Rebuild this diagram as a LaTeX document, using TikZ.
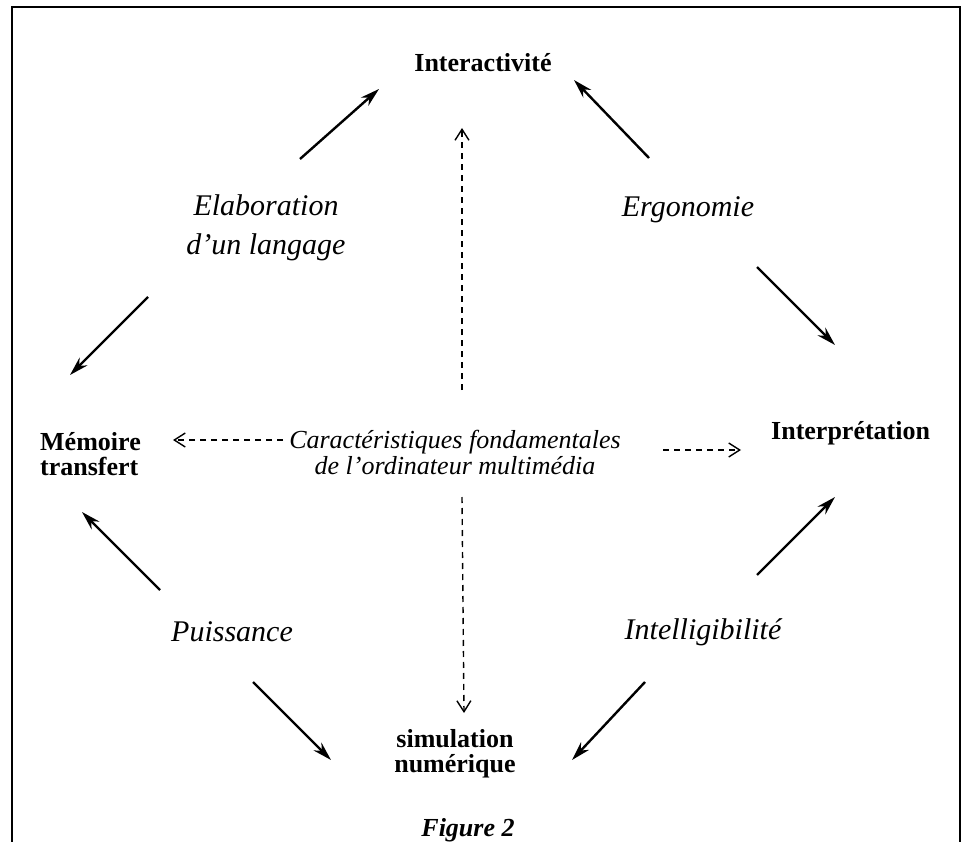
\documentclass[tikz,border=0pt]{standalone}
\usepackage{fontspec}
\setmainfont{Liberation Serif}
\usetikzlibrary{arrows.meta, positioning}
\tikzset{
  pole/.style={font=\fontsize{26}{25}\selectfont\bfseries, align=left},
  quality/.style={font=\fontsize{30}{39}\selectfont\itshape, align=center},
  arrowline/.style={-{Stealth[length=19pt, width=11pt, inset=6pt]}, line width=2.4pt},
  dashline/.style={-{Straight Barb[length=11pt, width=14pt]}, line width=1.4pt, dash pattern=on 6pt off 5pt},
}

\begin{document}
\begin{tikzpicture}[x=1pt, y=-1pt, every node/.style={inner sep=0pt}]
\useasboundingbox (0,0) rectangle (966,842);
\draw[line width=1.6pt] (12,842) |- (960,7) -- (960,842);
% les poles
\node[pole] (inter) at (483,63) {Interactivité};
\node[pole, anchor=west] (mem) at (40,454) {Mémoire\\transfert};
\node[pole, anchor=west] (interp) at (771,433) {Interprétation};
\node[pole, align=center] (simul) at (455,754) {simulation\\numérique};
\node[font=\fontsize{26}{26}\selectfont\itshape, align=center] (carac) at (455,452) {Caractéristiques fondamentales\\de l'ordinateur multimédia};
\node[font=\fontsize{26}{26}\selectfont\bfseries\itshape] (fig) at (468,830) {Figure 2};
% les qualites
\node[quality] (elab) at (266,228) {Elaboration\\d'un langage};
\node[quality] (ergo) at (688,210) {Ergonomie};
\node[quality] (puiss) at (232,632) {Puissance};
\node[quality] (intel) at (703,632) {Intelligibilité};
% bouts des fleches
\coordinate (elab1) at (300,159); \coordinate (inter1) at (379,89);
\coordinate (ergo1) at (649,158); \coordinate (inter2) at (574,80);
\coordinate (elab2) at (148,297); \coordinate (mem1) at (70,375);
\coordinate (ergo2) at (757,267); \coordinate (interp1) at (835,345);
\coordinate (puiss1) at (160,590); \coordinate (mem2) at (82,512);
\coordinate (intel1) at (757,575); \coordinate (interp2) at (835,497);
\coordinate (puiss2) at (253,682); \coordinate (simul1) at (331,760);
\coordinate (intel2) at (645,682); \coordinate (simul2) at (572,760);
\coordinate (carac1) at (462,390); \coordinate (inter3) at (462,128);
\coordinate (carac2) at (462,497); \coordinate (simul3) at (464,713);
\coordinate (carac3) at (283,440); \coordinate (mem3) at (173,440);
\coordinate (carac4) at (663,450); \coordinate (interp3) at (741,450);
\draw[arrowline] (elab1) -- (inter1);
\draw[arrowline] (ergo1) -- (inter2);
\draw[arrowline] (elab2) -- (mem1);
\draw[arrowline] (ergo2) -- (interp1);
\draw[arrowline] (puiss1) -- (mem2);
\draw[arrowline] (intel1) -- (interp2);
\draw[arrowline] (puiss2) -- (simul1);
\draw[arrowline] (intel2) -- (simul2);
\draw[dashline] (carac1) -- (inter3);
\draw[dashline] (carac2) -- (simul3);
\draw[dashline] (carac3) -- (mem3);
\draw[dashline] (carac4) -- (interp3);
\end{tikzpicture}
\end{document}
